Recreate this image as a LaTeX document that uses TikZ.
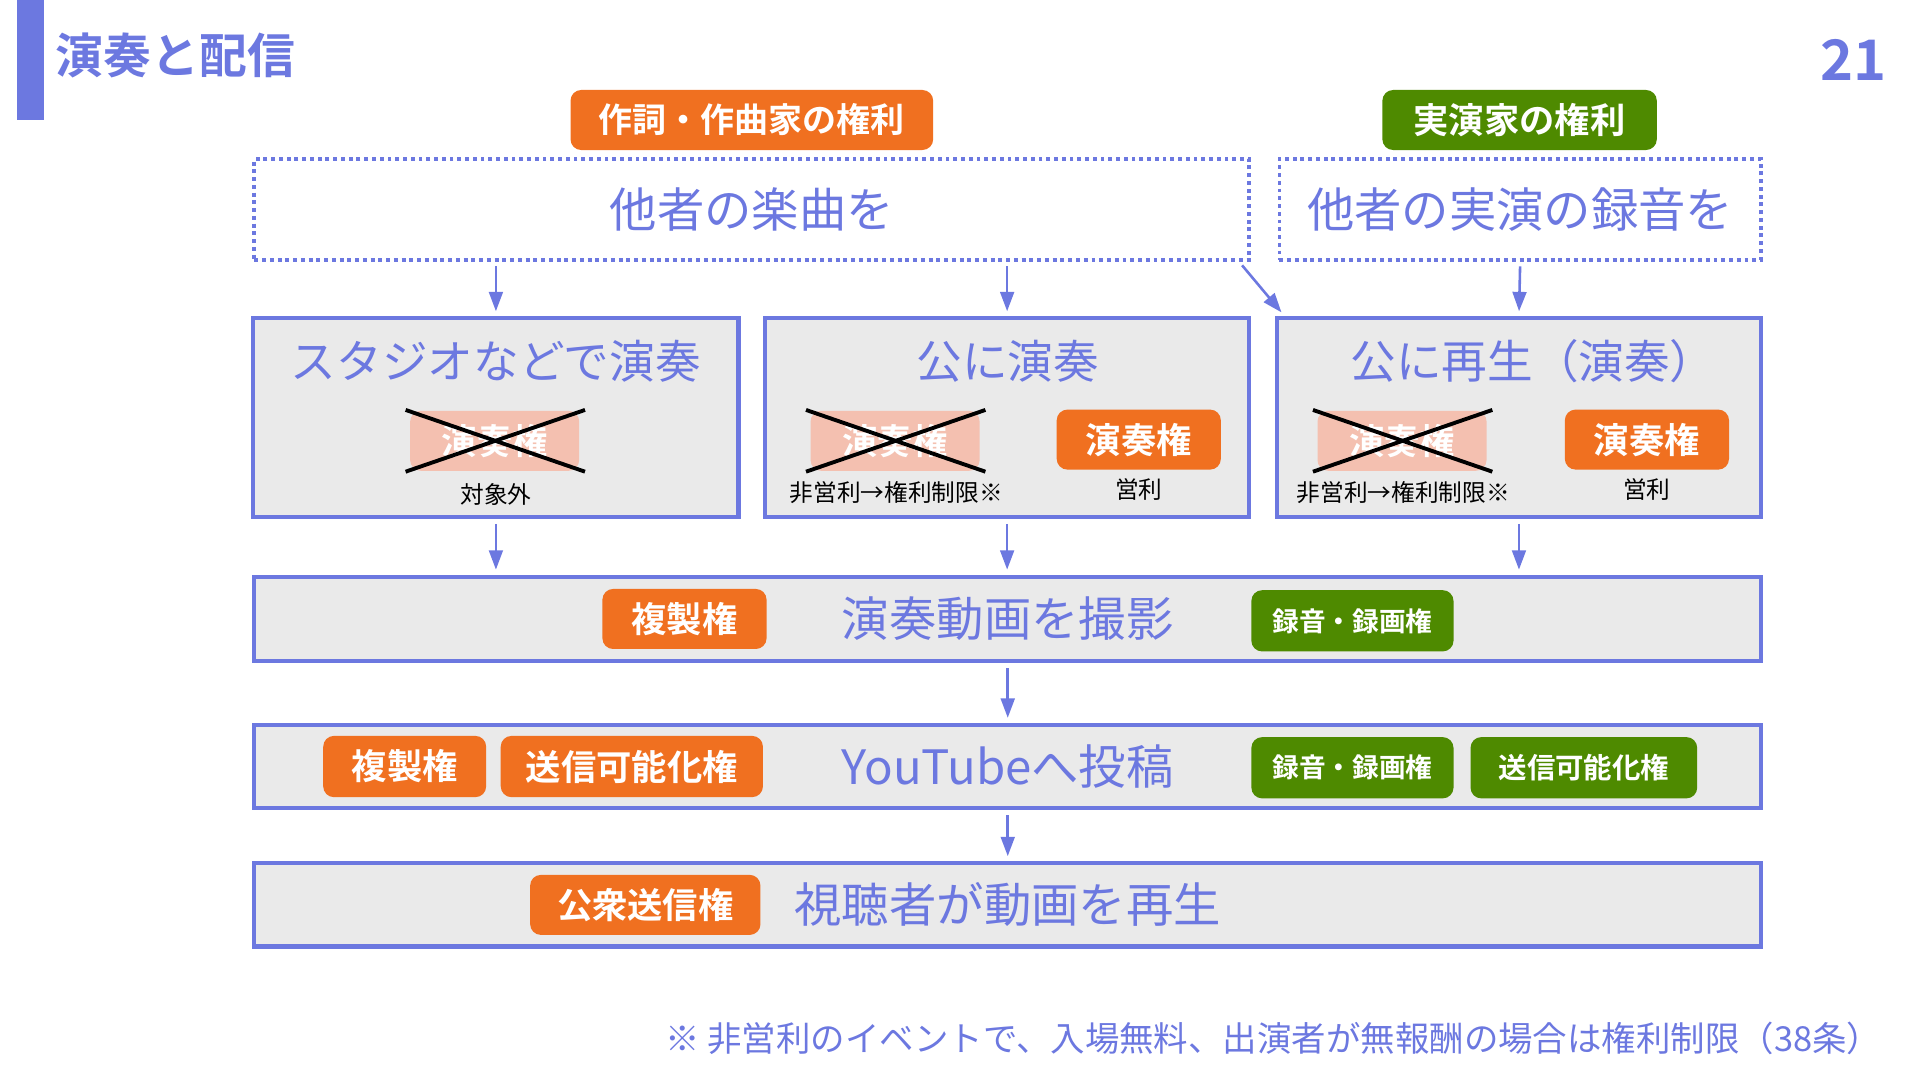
\documentclass[tikz,border=0pt]{standalone}
\usepackage{fontspec}
\setmainfont{Noto Sans CJK JP}[BoldFont={Noto Sans CJK JP Bold}]
\usepackage{tikz}
\usetikzlibrary{arrows.meta}
\definecolor{mainBlue}{RGB}{108, 120, 224}
\definecolor{tagOrange}{RGB}{240, 112, 32}
\definecolor{tagFaded}{RGB}{244, 192, 176}
\definecolor{tagGreen}{RGB}{78, 138, 0}
\definecolor{boxGray}{RGB}{234, 234, 234}

\begin{document}
\begin{tikzpicture}[x=0.01cm, y=-0.01cm,
    big/.style={font=\fontsize{11pt}{13pt}\selectfont},
    source/.style={big, draw=mainBlue, line width=0.9pt, dash pattern=on 0.9pt off 0.9pt,
      inner sep=0pt, text=mainBlue, minimum height=0.82cm},
    stage/.style={big, draw=mainBlue, line width=1pt, fill=boxGray, inner sep=0pt, text=mainBlue},
    stageTitle/.style={font=\fontsize{10.6pt}{12pt}\selectfont, text=mainBlue, inner sep=0pt},
    tag/.style={rounded corners=2.5pt, inner sep=0pt, minimum height=0.49cm, text=white,
      font=\bfseries\fontsize{8.2pt}{10pt}\selectfont},
    smalltag/.style={tag, font=\bfseries\fontsize{6.2pt}{8pt}\selectfont, minimum height=0.5cm},
    note/.style={font=\fontsize{5.5pt}{7pt}\selectfont, inner sep=0pt},
    flow/.style={draw=mainBlue, line width=0.6pt, -{Triangle[width=3.2pt,length=4.5pt]},
      shorten <=0.04cm, shorten >=0.04cm},
    cross/.style={line width=0.9pt, black}]
    \useasboundingbox (0,0) rectangle (1568,882);

    \fill[mainBlue] (14,0) rectangle (36,98);
    \node[anchor=west, inner sep=0pt, text=mainBlue, font=\bfseries\fontsize{11.1pt}{13pt}\selectfont] (title) at (45,45) {演奏と配信};
    \node[anchor=east, inner sep=0pt, text=mainBlue, font=\bfseries\fontsize{13pt}{15pt}\selectfont] (pageNum) at (1541,49) {21};

    \node[tag, fill=tagOrange, minimum width=2.96cm, font=\bfseries\fontsize{7.9pt}{10pt}\selectfont] (composerTag) at (614,98) {作詞・作曲家の権利};
    \node[tag, fill=tagGreen, minimum width=2.24cm] (performerTag) at (1241,98) {実演家の権利};

    \node[source, minimum width=8.12cm] (srcSong) at (614,171) {他者の楽曲を};
    \node[source, minimum width=3.93cm] (srcRec) at (1241.5,171) {他者の実演の録音を};

    \node[stage, minimum width=3.96cm, minimum height=1.62cm] (stageStudio) at (405,341) {};
    \node[stage, minimum width=3.95cm, minimum height=1.62cm] (stagePublic) at (822.5,341) {};
    \node[stage, minimum width=3.95cm, minimum height=1.62cm] (stagePlay) at (1240.5,341) {};

    \node[stageTitle] (studioTitle) at (405,295) {スタジオなどで演奏};
    \node[stageTitle] (publicTitle) at (823,295) {公に演奏};
    \node[stageTitle] (playTitle) at (1252,295) {公に再生（演奏）};

    \node[tag, fill=tagFaded, minimum width=1.38cm] (fadedStudio) at (404,360) {演奏権};
    \node[tag, fill=tagFaded, minimum width=1.38cm] (fadedPublic) at (731,360) {演奏権};
    \node[tag, fill=tagFaded, minimum width=1.38cm] (fadedPlay) at (1145,360) {演奏権};
    \foreach \f in {fadedStudio, fadedPublic, fadedPlay} {
      \draw[cross] ([xshift=-0.03cm]\f.north west) -- ([xshift=0.04cm]\f.south east);
      \draw[cross] ([xshift=-0.03cm]\f.south west) -- ([xshift=0.04cm]\f.north east);
    }
    \node[tag, fill=tagOrange, minimum width=1.34cm] (rightPublic) at (930,359) {演奏権};
    \node[tag, fill=tagOrange, minimum width=1.34cm] (rightPlay) at (1345,359) {演奏権};

    \node[note] (noteStudio) at (405,404) {対象外};
    \node[note] (notePublic) at (732,402) {非営利→権利制限※};
    \node[note] (noteProfitA) at (930,400) {営利};
    \node[note] (notePlay) at (1146,402) {非営利→権利制限※};
    \node[note] (noteProfitB) at (1345,400) {営利};

    \node[stage, minimum width=12.3cm, minimum height=0.69cm] (shoot) at (823,505.5) {演奏動画を撮影};
    \node[tag, fill=tagOrange, minimum width=1.34cm] (copyA) at (559,505.5) {複製権};
    \node[smalltag, fill=tagGreen, minimum width=1.65cm] (recA) at (1104.5,507) {録音・録画権};

    \node[stage, minimum width=12.3cm, minimum height=0.68cm] (upload) at (823,626) {YouTubeへ投稿};
    \node[tag, fill=tagOrange, minimum width=1.33cm, minimum height=0.5cm] (copyB) at (330.5,626) {複製権};
    \node[tag, fill=tagOrange, minimum width=2.14cm, minimum height=0.5cm] (sendB) at (516,626) {送信可能化権};
    \node[smalltag, fill=tagGreen, minimum width=1.65cm] (recB) at (1104.5,627) {録音・録画権};
    \node[smalltag, fill=tagGreen, minimum width=1.85cm, font=\bfseries\fontsize{6.6pt}{8pt}\selectfont] (sendC) at (1293.5,627) {送信可能化権};

    \node[stage, minimum width=12.3cm, minimum height=0.68cm] (view) at (823,739) {};
    \node[big, text=mainBlue, inner sep=0pt] (viewText) at (823,739) {視聴者が動画を再生};
    \node[tag, fill=tagOrange, minimum width=1.88cm] (broadcast) at (527,739) {公衆送信権};

    \node[anchor=east, inner sep=0pt, text=mainBlue, font=\fontsize{8pt}{10pt}\selectfont] (footnote) at (1537,848) {※ 非営利のイベントで、入場無料、出演者が無報酬の場合は権利制限（38条）};

    \draw[flow] (stageStudio.north |- srcSong.south) -- (stageStudio.north);
    \draw[flow] (stagePublic.north |- srcSong.south) -- (stagePublic.north);
    \draw[flow] ([xshift=-0.1cm]srcSong.south east) -- ([xshift=0.08cm]stagePlay.north west);
    \draw[flow] (srcRec.south) -- (stagePlay.north);
    \draw[flow] (stageStudio.south) -- (shoot.north -| stageStudio.south);
    \draw[flow] (stagePublic.south) -- (shoot.north -| stagePublic.south);
    \draw[flow] (stagePlay.south) -- (shoot.north -| stagePlay.south);
    \draw[flow] (shoot) -- (upload);
    \draw[flow] (upload) -- (view);
  \end{tikzpicture}
\end{document}
